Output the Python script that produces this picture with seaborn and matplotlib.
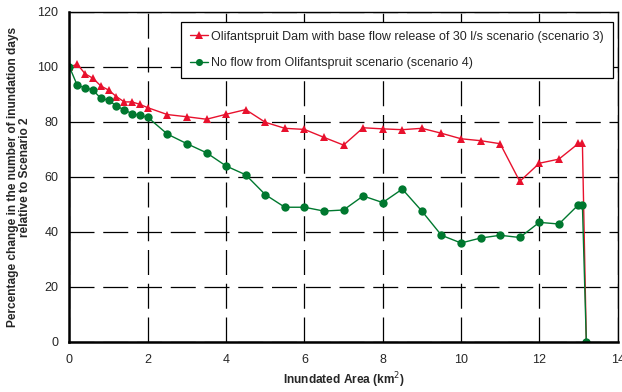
import matplotlib
matplotlib.use("Agg")
import matplotlib.pyplot as plt
import seaborn as sns
import pandas as pd

# Inundated area (km2) and percentage change relative to scenario 2
area_s3 = [0.0, 0.2, 0.4, 0.6, 0.8, 1.0, 1.2, 1.4, 1.6, 1.8, 2.0, 2.5, 3.0, 3.5, 4.0,
           4.5, 5.0, 5.5, 6.0, 6.5, 7.0, 7.5, 8.0, 8.5, 9.0, 9.5, 10.0, 10.5, 11.0,
           11.5, 12.0, 12.5, 13.0, 13.1, 13.2]
pct_s3 = [100.0, 101.0, 97.5, 95.9, 93.1, 91.6, 89.2, 87.3, 87.3, 86.4, 85.2, 82.7, 81.9,
          81.0, 82.8, 84.5, 79.9, 77.7, 77.3, 74.4, 71.6, 77.9, 77.5, 77.2, 77.7, 75.9,
          73.9, 73.2, 72.1, 58.4, 65.0, 66.5, 72.2, 72.2, 0.0]

area_s4 = [0.0, 0.2, 0.4, 0.6, 0.8, 1.0, 1.2, 1.4, 1.6, 1.8, 2.0, 2.5, 3.0, 3.5, 4.0,
           4.5, 5.0, 5.5, 6.0, 6.5, 7.0, 7.5, 8.0, 8.5, 9.0, 9.5, 10.0, 10.5, 11.0,
           11.5, 12.0, 12.5, 13.0, 13.1, 13.2]
pct_s4 = [100.0, 93.3, 92.5, 91.6, 88.6, 87.9, 85.8, 84.4, 83.0, 82.4, 81.7, 75.6, 72.1,
          68.8, 64.0, 60.8, 53.6, 49.0, 49.0, 47.6, 48.0, 53.1, 50.7, 55.6, 47.6, 38.8,
          36.0, 37.8, 38.8, 38.0, 43.5, 42.9, 49.9, 49.9, 0.0]

label_s3 = "Olifantspruit Dam with base flow release of 30 l/s scenario (scenario 3)"
label_s4 = "No flow from Olifantspruit scenario (scenario 4)"

x_ticks = [0, 2, 4, 6, 8, 10, 12, 14]
y_ticks = [0, 20, 40, 60, 80, 100, 120]

sns.set_style("white")
plt.rcParams["font.family"] = ["Liberation Sans", "DejaVu Sans"]

df = pd.concat([
    pd.DataFrame({"area": area_s3, "pct": pct_s3, "scenario": label_s3}),
    pd.DataFrame({"area": area_s4, "pct": pct_s4, "scenario": label_s4}),
])

fig = plt.figure(figsize=(6.22, 3.92), dpi=100)
ax = fig.add_axes([0.1117, 0.1276, 0.8813, 0.8418])

sns.lineplot(data=df, x="area", y="pct", hue="scenario", style="scenario",
             palette={label_s3: "#e8112d", label_s4: "#00782f"},
             markers={label_s3: "^", label_s4: "o"}, dashes=False,
             markersize=6, markeredgewidth=0, linewidth=1.0,
             sort=False, estimator=None, ax=ax)

ax.set_xlim(0, 14)
ax.set_ylim(0, 120)
ax.set_xticks(x_ticks)
ax.set_yticks(y_ticks)
ax.tick_params(axis="both", labelsize=9, length=4, width=1, color="black",
               direction="out", pad=4)
ax.tick_params(axis="x", pad=5)

ax.grid(True, color="black", linestyle=(0, (20, 7)), linewidth=0.9)
ax.set_axisbelow(True)

for side in ["left", "bottom"]:
    ax.spines[side].set_color("black")
    ax.spines[side].set_linewidth(1.8)
for side in ["top", "right"]:
    ax.spines[side].set_color("black")
    ax.spines[side].set_linewidth(1.0)

ax.set_xlabel("Inundated Area (km$^2$)", fontsize=8.6, fontweight="bold", labelpad=3)
ax.set_ylabel("Percentage change in the number of inundation days\nrelative to Scenario 2",
              fontsize=8.6, fontweight="bold", linespacing=1.0)
ax.yaxis.set_label_coords(-0.07, 0.5)

leg = ax.legend(loc="upper left", bbox_to_anchor=(0.203, 0.97), borderaxespad=0,
                fontsize=9, frameon=True, fancybox=False, edgecolor="black",
                framealpha=1, handlelength=1.45, handletextpad=0.3, labelspacing=1.15,
                borderpad=0.7, markerscale=0.85)
leg.get_frame().set_linewidth(0.9)
leg.set_title(None)

fig.savefig("out.png", dpi=100)
